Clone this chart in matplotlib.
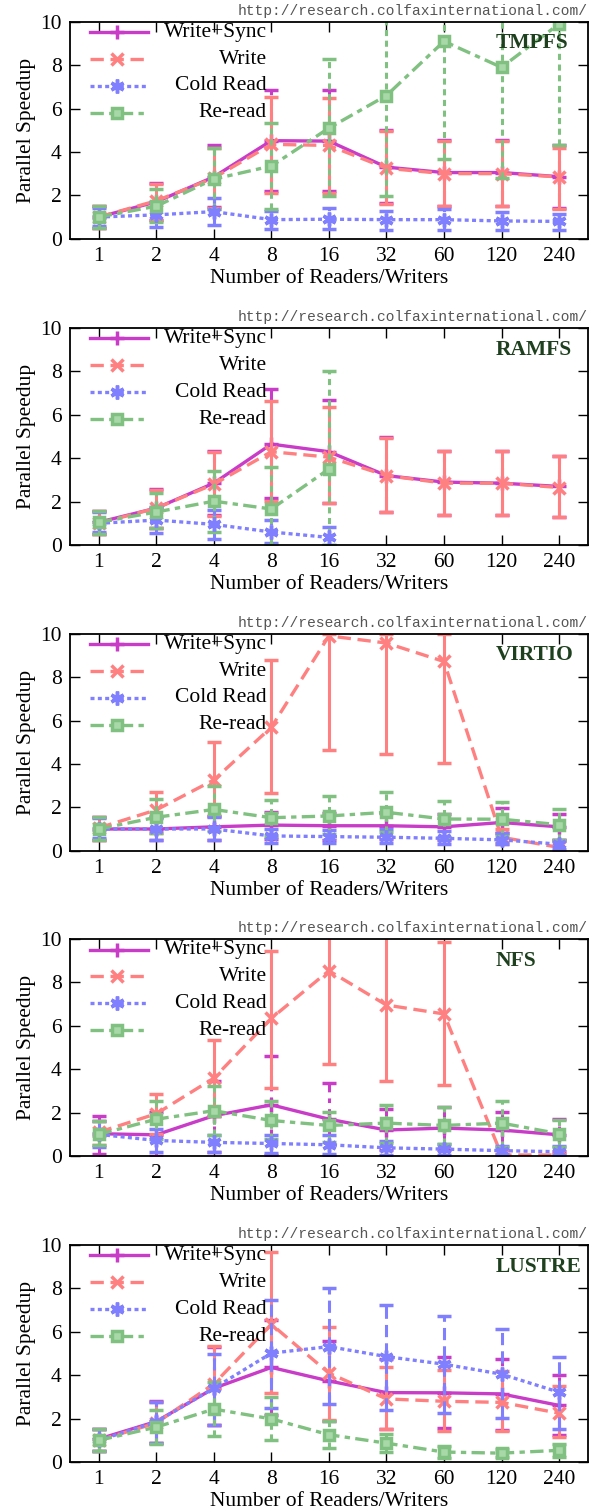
import numpy as np
import matplotlib
matplotlib.use("Agg")
import matplotlib.pyplot as plt

plt.rcParams['font.family'] = ['Liberation Serif', 'DejaVu Serif']

# categories (number of readers/writers)
threads = ['1', '2', '4', '8', '16', '32', '60', '120', '240']
series = ['Write+Sync', 'Write', 'Cold Read', 'Re-read']
panels = ['TMPFS', 'RAMFS', 'VIRTIO', 'NFS', 'LUSTRE']
nan = np.nan

# each row: Write+Sync, Write, Cold Read, Re-read
tmpfs_mean = [[1.0, 1.7, 2.85, 4.52, 4.5, 3.3, 3.05, 3.05, 2.86],
              [1.0, 1.75, 2.8, 4.35, 4.3, 3.25, 3.0, 3.0, 2.85],
              [1.0, 1.1, 1.25, 0.88, 0.9, 0.88, 0.88, 0.82, 0.8],
              [1.0, 1.5, 2.75, 3.35, 5.1, 6.6, 9.1, 7.9, 9.9]]
tmpfs_lo = [[0.5, 0.86, 1.45, 2.2, 2.2, 1.63, 1.52, 1.5, 1.4],
            [0.5, 0.85, 1.4, 2.1, 2.1, 1.6, 1.5, 1.5, 1.35],
            [0.6, 0.55, 0.62, 0.45, 0.43, 0.4, 0.4, 0.42, 0.4],
            [0.5, 0.78, 1.35, 1.35, 1.97, 1.97, 3.66, 2.78, 4.3]]
tmpfs_hi = [[1.5, 2.55, 4.32, 6.86, 6.86, 5.0, 4.55, 4.55, 4.3],
            [1.5, 2.5, 4.2, 6.55, 6.5, 4.95, 4.5, 4.5, 4.2],
            [1.4, 1.7, 1.86, 1.3, 1.4, 1.3, 1.35, 1.25, 1.15],
            [1.5, 2.28, 4.2, 5.35, 8.3, 12.0, 14.0, 13.0, 15.0]]

ramfs_mean = [[1.05, 1.7, 2.85, 4.65, 4.3, 3.2, 2.9, 2.85, 2.7],
              [1.0, 1.7, 2.8, 4.3, 4.05, 3.2, 2.85, 2.85, 2.65],
              [1.0, 1.15, 0.95, 0.6, 0.35, nan, nan, nan, nan],
              [1.05, 1.52, 2.02, 1.66, 3.5, nan, nan, nan, nan]]
ramfs_lo = [[0.5, 0.8, 1.4, 2.15, 1.95, 1.5, 1.4, 1.4, 1.3],
            [0.5, 0.8, 1.35, 2.05, 1.95, 1.5, 1.4, 1.4, 1.3],
            [0.6, 0.57, 0.3, 0.1, 0.0, nan, nan, nan, nan],
            [0.5, 0.77, 0.6, 0.0, 0.0, nan, nan, nan, nan]]
ramfs_hi = [[1.55, 2.6, 4.35, 7.18, 6.7, 5.0, 4.35, 4.35, 4.1],
            [1.55, 2.55, 4.3, 6.65, 6.35, 4.95, 4.35, 4.35, 4.1],
            [1.5, 1.77, 1.6, 1.15, 0.85, nan, nan, nan, nan],
            [1.55, 2.4, 3.4, 3.6, 8.0, nan, nan, nan, nan]]

virtio_mean = [[1.0, 1.0, 1.1, 1.18, 1.15, 1.15, 1.1, 1.3, 1.1],
               [1.05, 1.88, 3.26, 5.69, 9.9, 9.57, 8.72, 0.62, 0.15],
               [1.0, 1.0, 1.0, 0.68, 0.65, 0.62, 0.57, 0.5, 0.3],
               [1.0, 1.54, 1.9, 1.52, 1.6, 1.77, 1.46, 1.45, 1.2]]
virtio_lo = [[0.5, 0.5, 0.5, 0.54, 0.5, 0.55, 0.5, 0.83, 0.5],
             [0.5, 0.83, 1.6, 2.68, 4.65, 4.45, 4.03, 0.3, 0.0],
             [0.6, 0.5, 0.5, 0.35, 0.35, 0.35, 0.3, 0.3, 0.1],
             [0.5, 0.83, 0.9, 0.7, 0.75, 0.85, 0.65, 0.7, 0.5]]
virtio_hi = [[1.55, 1.57, 1.6, 1.8, 1.75, 1.75, 1.7, 1.95, 1.7],
             [1.55, 2.72, 5.0, 8.8, 10.0, 10.0, 10.0, 1.0, 0.5],
             [1.5, 1.5, 1.55, 1.0, 0.95, 1.0, 0.9, 0.8, 0.5],
             [1.55, 2.37, 3.0, 2.35, 2.52, 2.72, 2.3, 2.25, 1.9]]

nfs_mean = [[1.03, 0.98, 1.86, 2.36, 1.7, 1.2, 1.29, 1.2, 0.98],
            [1.1, 1.95, 3.59, 6.35, 8.54, 6.96, 6.55, 0.05, 0.05],
            [1.0, 0.72, 0.63, 0.58, 0.52, 0.38, 0.32, 0.25, 0.2],
            [1.0, 1.7, 2.09, 1.64, 1.41, 1.52, 1.41, 1.52, 1.03]]
nfs_lo = [[0.1, 0.0, 0.18, 0.06, 0.0, 0.3, 0.3, 0.3, 0.2],
          [0.5, 1.0, 1.85, 3.13, 4.23, 3.47, 3.28, 0.0, 0.0],
          [0.4, 0.2, 0.18, 0.15, 0.1, 0.05, 0.05, 0.05, 0.0],
          [0.5, 0.8, 0.98, 0.78, 0.65, 0.6, 0.55, 0.41, 0.4]]
nfs_hi = [[1.86, 2.05, 3.48, 4.63, 3.36, 2.16, 2.24, 2.05, 1.7],
          [1.6, 2.87, 5.35, 9.46, 11.0, 11.0, 9.85, 0.1, 0.1],
          [1.6, 1.25, 0.98, 0.95, 0.95, 0.7, 0.55, 0.45, 0.45],
          [1.6, 2.55, 3.25, 2.52, 2.05, 2.36, 2.25, 2.55, 1.65]]

lustre_mean = [[1.06, 1.87, 3.4, 4.36, 3.74, 3.2, 3.19, 3.14, 2.61],
               [1.0, 1.8, 3.6, 6.35, 4.1, 2.91, 2.8, 2.75, 2.25],
               [1.0, 1.85, 3.4, 5.02, 5.32, 4.86, 4.51, 4.05, 3.22],
               [1.0, 1.61, 2.44, 1.99, 1.26, 0.87, 0.46, 0.41, 0.54]]
lustre_lo = [[0.5, 0.9, 1.69, 2.18, 1.9, 1.5, 1.55, 1.49, 1.26],
             [0.5, 0.9, 1.7, 3.17, 1.95, 1.5, 1.41, 1.45, 1.15],
             [0.5, 0.9, 1.69, 2.48, 2.67, 2.41, 2.25, 2.02, 1.53],
             [0.5, 0.85, 1.21, 1.03, 0.64, 0.45, 0.2, 0.25, 0.25]]
lustre_hi = [[1.5, 2.8, 5.3, 6.55, 5.6, 4.75, 4.82, 4.75, 4.02],
             [1.5, 2.75, 5.35, 9.68, 6.24, 4.4, 4.25, 4.2, 3.51],
             [1.5, 2.75, 5.0, 7.47, 8.0, 7.24, 6.73, 6.12, 4.82],
             [1.5, 2.4, 3.71, 3.02, 1.9, 1.3, 0.75, 0.6, 0.85]]

means = [tmpfs_mean, ramfs_mean, virtio_mean, nfs_mean, lustre_mean]
lows = [tmpfs_lo, ramfs_lo, virtio_lo, nfs_lo, lustre_lo]
highs = [tmpfs_hi, ramfs_hi, virtio_hi, nfs_hi, lustre_hi]

colors = ['#c83cc8', '#ff8080', '#8080ff', '#80c080']
faces = ['#c83cc8', '#ff8080', '#8080ff', '#a8d8a8']
line_styles = ['-', (0, (4, 2)), (0, (1.2, 1.0)), (0, (4, 1.6, 1.6, 1.6))]
bar_styles = [(0, (5, 2, 1.5, 2)), '-', (0, (4, 2)), (0, (2, 1.5))]
markers = ['+', 'x', (6, 2, 0), 's']
msizes = [10, 9, 10, 7]
url = 'http://research.colfaxinternational.com/'

fig = plt.figure(figsize=(5.98, 15.11), dpi=100)
bottoms = [0.842, 0.6393, 0.437, 0.2349, 0.0324]
x = np.arange(len(threads))

for p, name in enumerate(panels):
    ax = fig.add_axes([0.117, bottoms[p], 0.866, 0.1436])
    for s in range(4):
        m = np.array(means[p][s])
        lo = np.array(lows[p][s])
        hi = np.array(highs[p][s])
        eb = ax.errorbar(x, m, yerr=[m - lo, hi - m], color=colors[s],
                         linestyle=line_styles[s], linewidth=2.4,
                         marker=markers[s], markersize=msizes[s], mew=2.5,
                         mfc=faces[s], mec=colors[s],
                         elinewidth=2.2, capsize=5, capthick=2.5, zorder=2 + s * 0.1)
        eb[2][0].set_linestyle(bar_styles[s])

        # gnuplot-style legend: sample first, label right-aligned
        ly = 0.952 - 0.124 * s
        ax.plot([0.039, 0.151], [ly, ly], transform=ax.transAxes,
                color=colors[s], linestyle=line_styles[s], linewidth=2.4)
        ax.plot([0.091], [ly], transform=ax.transAxes, color=colors[s],
                marker=markers[s], markersize=msizes[s], mew=2.5, mfc=faces[s],
                mec=colors[s], linestyle='none')
        ax.text(0.380, ly, series[s], transform=ax.transAxes,
                ha='right', va='center', fontsize=15.5)

    ax.set_xlim(-0.5, 8.5)
    ax.set_ylim(0, 10)
    ax.set_xticks(x)
    ax.set_xticklabels(threads)
    ax.set_yticks(range(0, 11, 2))
    ax.tick_params(direction='in', length=7, width=1, top=True, right=True,
                   labelsize=15.5, pad=6)
    for sp in ax.spines.values():
        sp.set_linewidth(1.3)
    ax.set_xlabel('Number of Readers/Writers', fontsize=15.5, labelpad=2)
    ax.set_ylabel('Parallel Speedup', fontsize=15.5, labelpad=3)
    ax.text(0.822, 0.90, name, transform=ax.transAxes, ha='left', va='center',
            fontsize=15.5, fontweight='bold', color='#1e401e')
    ax.text(1.0, 1.05, url, transform=ax.transAxes, ha='right', va='center',
            fontsize=10.5, family='Liberation Mono', color='#555555')

fig.savefig('out.png', dpi=100)
